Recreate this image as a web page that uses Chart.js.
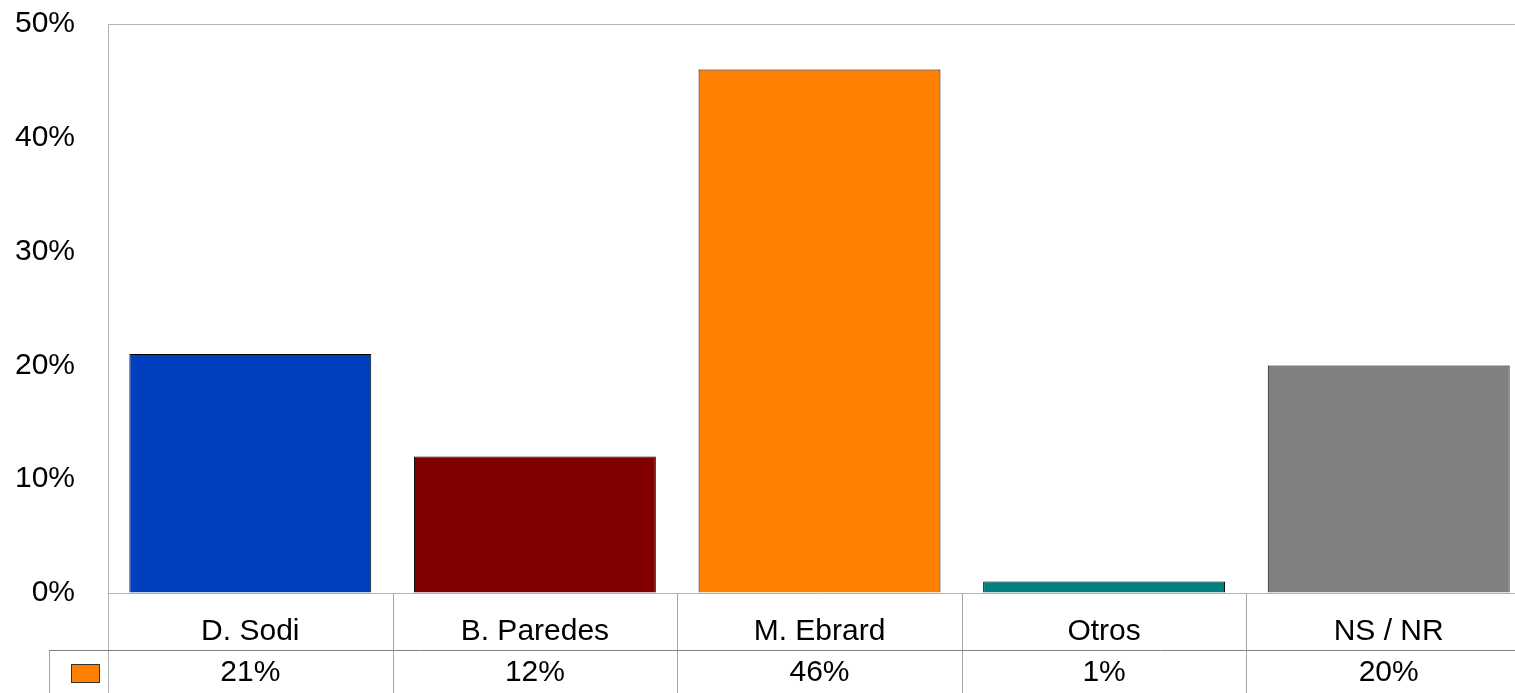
<!DOCTYPE html>
<html>
<head>
<meta charset="utf-8">
<script src="https://cdn.jsdelivr.net/npm/chart.js@4/dist/chart.umd.min.js"></script>
<style>
  html, body { margin: 0; padding: 0; background: #fff; overflow: hidden; }
  #wrap { width: 1531px; height: 693px; }
</style>
</head>
<body>
<div id="wrap"><canvas id="myBarChart"></canvas></div>
<script>
var categories = ['D. Sodi', 'B. Paredes', 'M. Ebrard', 'Otros', 'NS / NR'];
var values = [21, 12, 46, 1, 20];
var barColors = ['#0040BF', '#800000', '#FF8000', '#008080', '#808080'];
var legendColor = '#FF8000';
var yTicks = [0, 10, 20, 30, 40, 50];

var FONT = '"Liberation Sans", Arial, sans-serif';

// draws the frame and the data table under the plot
var tablePlugin = {
    id: 'dataTable',
    afterDraw: function (chart) {
        var ctx = chart.ctx;
        var area = chart.chartArea;
        var xs = chart.scales.x;
        var half = (xs.getPixelForValue(1) - xs.getPixelForValue(0)) / 2;
        var rowTop = area.bottom;
        var rowMid = 650;
        var rowEnd = chart.height;

        ctx.save();
        ctx.lineWidth = 1;

        // frame lines
        ctx.strokeStyle = '#b3b3b3';
        ctx.beginPath();
        ctx.moveTo(area.left, area.top + 0.5);
        ctx.lineTo(area.right, area.top + 0.5);
        ctx.moveTo(area.left + 0.5, area.top);
        ctx.lineTo(area.left + 0.5, rowEnd);
        ctx.moveTo(area.left, rowTop + 0.5);
        ctx.lineTo(area.right, rowTop + 0.5);
        ctx.stroke();

        // table vertical lines
        ctx.strokeStyle = '#a6a6a6';
        ctx.beginPath();
        for (var i = 0; i < categories.length; i++) {
            var bx = Math.round(xs.getPixelForValue(i) + half) + 0.5;
            ctx.moveTo(bx, rowTop);
            ctx.lineTo(bx, rowEnd);
        }
        ctx.moveTo(49.5, rowMid);
        ctx.lineTo(49.5, rowEnd);
        ctx.stroke();

        // row separator
        ctx.strokeStyle = '#808080';
        ctx.beginPath();
        ctx.moveTo(49, rowMid + 0.5);
        ctx.lineTo(area.right, rowMid + 0.5);
        ctx.stroke();

        // legend key
        ctx.fillStyle = legendColor;
        ctx.fillRect(71, 664, 29, 19);
        ctx.strokeStyle = '#333';
        ctx.strokeRect(71.5, 664.5, 28, 18);

        // texts
        ctx.fillStyle = '#000';
        ctx.font = '30px ' + FONT;
        ctx.textAlign = 'center';
        ctx.textBaseline = 'middle';
        for (var j = 0; j < categories.length; j++) {
            var cx = xs.getPixelForValue(j);
            ctx.fillText(categories[j], cx, 632);
            ctx.fillText(values[j] + '%', cx, 673);
        }
        ctx.restore();
    }
};

var ctx = document.getElementById('myBarChart').getContext('2d');
var myBarChart = new Chart(ctx, {
    type: 'bar',
    data: {
        labels: categories,
        datasets: [{
            label: 'Intención de voto',
            data: values,
            backgroundColor: barColors,
            borderColor: '#000',
            borderWidth: 1,
            categoryPercentage: 1,
            barPercentage: 0.85
        }]
    },
    options: {
        responsive: true,
        maintainAspectRatio: false,
        animation: false,
        devicePixelRatio: 1,
        layout: { padding: { top: 24, bottom: 100, left: 0, right: 0 } },
        plugins: {
            legend: { display: false },
            tooltip: { enabled: false }
        },
        scales: {
            x: {
                display: false,
                offset: true
            },
            y: {
                min: yTicks[0],
                max: yTicks[yTicks.length - 1],
                afterFit: function (axis) {
                    axis.width = 108;
                    axis.paddingTop = 0;
                    axis.paddingBottom = 0;
                },
                afterBuildTicks: function (axis) {
                    axis.ticks = yTicks.map(function (v) { return { value: v }; });
                },
                grid: { drawOnChartArea: false, drawTicks: false },
                border: { display: false },
                ticks: {
                    padding: 33,
                    color: '#000',
                    font: { family: FONT, size: 30 },
                    callback: function (v) { return v + '%'; }
                }
            }
        }
    },
    plugins: [tablePlugin]
});
</script>
</body>
</html>
